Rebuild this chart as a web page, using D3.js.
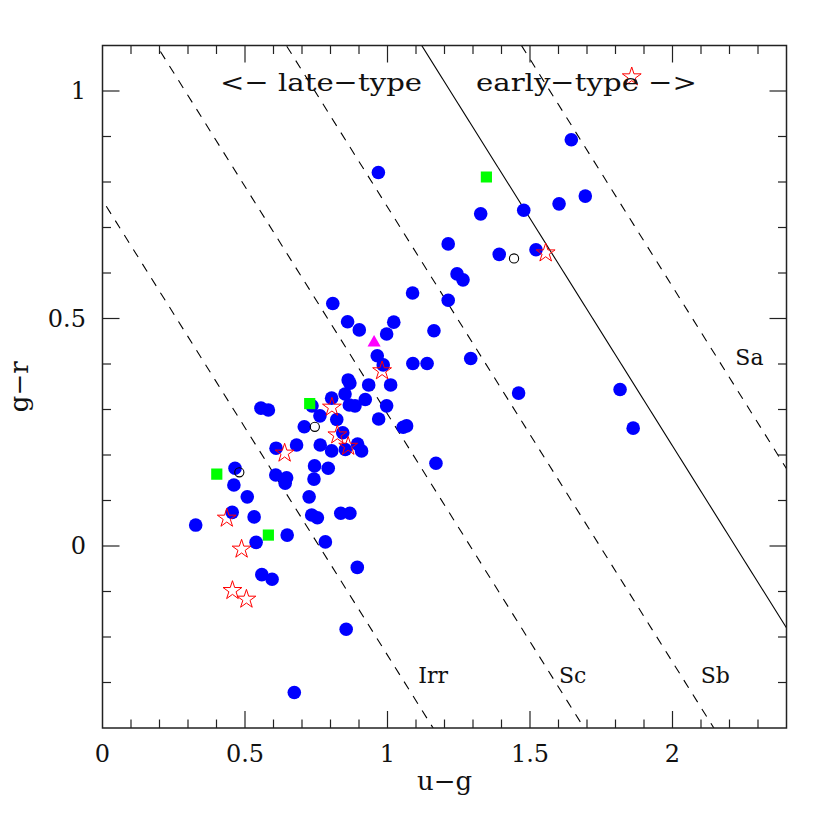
<!DOCTYPE html>
<html>
<head>
<meta charset="utf-8">
<script src="https://cdn.jsdelivr.net/npm/d3@7"></script>
<style>
  html, body { margin: 0; padding: 0; background: #fff; }
  text { font-family: "DejaVu Serif", "Liberation Serif", serif; fill: #111; }
</style>
</head>
<body>
<svg id="chart" width="830" height="830"></svg>
<script>
// ---------- data ----------
const blueX = [0.327,0.556,0.582,0.735,0.804,0.822,0.708,0.843,0.895,0.909,0.804,0.764,0.681,0.609,0.852,
  0.465,0.744,0.792,0.608,0.646,0.641,0.742,0.461,0.508,0.725,0.455,0.532,0.734,0.754,0.836,0.868,0.648,
  0.539,0.782,0.894,0.559,0.595,0.855,0.673,0.968,1.213,1.244,1.265,1.088,1.213,0.808,0.860,0.901,1.022,
  0.997,1.163,1.292,0.964,0.985,1.089,1.139,0.862,0.868,0.934,1.011,0.851,0.922,0.866,0.886,0.997,0.763,
  0.969,1.055,1.067,1.170,1.645,1.327,1.478,1.602,1.694,1.392,1.521,1.460,1.816,1.862];
const blueY = [0.046,0.303,0.299,0.308,0.325,0.278,0.262,0.249,0.224,0.209,0.209,0.222,0.222,0.215,0.212,
  0.171,0.176,0.171,0.156,0.150,0.138,0.147,0.134,0.108,0.108,0.074,0.064,0.068,0.062,0.072,0.072,0.024,
  0.008,0.009,-0.047,-0.063,-0.073,-0.183,-0.322,0.821,0.664,0.598,0.585,0.556,0.540,0.533,0.493,0.475,0.492,
  0.466,0.473,0.412,0.418,0.398,0.401,0.401,0.365,0.358,0.354,0.354,0.334,0.322,0.310,0.308,0.308,0.286,
  0.279,0.261,0.264,0.182,0.893,0.730,0.738,0.752,0.769,0.641,0.651,0.336,0.344,0.259];

const greenX = [1.347,0.727,0.401,0.582];
const greenY = [0.811,0.313,0.158,0.024];

const openX = [1.444,0.745,0.480];
const openY = [0.632,0.262,0.162];

const triX = [0.953];
const triY = [0.447];

const starX = [0.805,0.824,0.862,0.639,0.981,1.555,0.436,0.488,0.456,0.505,1.857];
const starY = [0.305,0.244,0.219,0.204,0.385,0.644,0.061,-0.007,-0.098,-0.117,1.031];

// lines of constant u-r (g-r = c - (u-g))
const lineC     = [0.76, 1.29, 1.745, 2.22, 2.57];
const lineDash  = [true, true, true, false, true];
const lineNames = ["Irr", "Sc", "Sb", "", "Sa"];
const labelX    = [1.16, 1.65, 2.15, null, 2.27];
const labelY    = [-0.285, -0.285, -0.285, null, 0.415];

const xTicks = [0, 0.5, 1, 1.5, 2];
const xTickLabels = ["0", "0.5", "1", "1.5", "2"];
const yTicks = [0, 0.5, 1];
const yTickLabels = ["0", "0.5", "1"];

// ---------- layout ----------
const L = 102.5, R = 786.5, T = 45.5, B = 728;
const x = d3.scaleLinear().domain([0, 2.4]).range([L, R]);
const y = d3.scaleLinear().domain([-0.4, 1.1]).range([B, T]);

const svg = d3.select("#chart");
svg.append("rect").attr("width", 830).attr("height", 830).attr("fill", "#fff");

svg.append("defs").append("clipPath").attr("id", "clip")
  .append("rect").attr("x", L).attr("y", T).attr("width", R - L).attr("height", B - T);

// ---------- lines ----------
const gl = svg.append("g").attr("clip-path", "url(#clip)");
lineC.forEach((c, i) => {
  gl.append("line")
    .attr("x1", x(-1)).attr("y1", y(c + 1))
    .attr("x2", x(3.5)).attr("y2", y(c - 3.5))
    .attr("stroke", "#000").attr("stroke-width", 1.1)
    .attr("stroke-dasharray", lineDash[i] ? "9,8" : null);
});
lineNames.forEach((n, i) => {
  if (!n) return;
  svg.append("text").attr("x", x(labelX[i])).attr("y", y(labelY[i]))
    .attr("text-anchor", "middle").attr("dominant-baseline", "central")
    .attr("font-size", 22).text(n);
});

// ---------- points ----------
const gp = svg.append("g").attr("clip-path", "url(#clip)");
gp.selectAll("circle.blue").data(d3.range(blueX.length)).join("circle")
  .attr("class", "blue")
  .attr("cx", i => x(blueX[i])).attr("cy", i => y(blueY[i])).attr("r", 6.8)
  .attr("fill", "#0000ff");

gp.selectAll("path.green").data(d3.range(greenX.length)).join("path")
  .attr("class", "green")
  .attr("transform", i => `translate(${x(greenX[i])},${y(greenY[i])})`)
  .attr("d", d3.symbol(d3.symbolSquare).size(125)())
  .attr("fill", "#00ff00");

gp.selectAll("circle.open").data(d3.range(openX.length)).join("circle")
  .attr("class", "open")
  .attr("cx", i => x(openX[i])).attr("cy", i => y(openY[i])).attr("r", 4.6)
  .attr("fill", "none").attr("stroke", "#000").attr("stroke-width", 1.1);

gp.selectAll("path.tri").data(d3.range(triX.length)).join("path")
  .attr("class", "tri")
  .attr("transform", i => `translate(${x(triX[i])},${y(triY[i])})`)
  .attr("d", d3.symbol(d3.symbolTriangle).size(75)())
  .attr("fill", "#ff00ff");

gp.selectAll("path.star").data(d3.range(starX.length)).join("path")
  .attr("class", "star")
  .attr("transform", i => `translate(${x(starX[i])},${y(starY[i])})`)
  .attr("d", d3.symbol(d3.symbolStar).size(110)())
  .attr("fill", "none").attr("stroke", "#ff0000").attr("stroke-width", 1);

// ---------- frame & ticks ----------
const axCol = "#222";
svg.append("rect").attr("x", L).attr("y", T).attr("width", R - L).attr("height", B - T)
  .attr("fill", "none").attr("stroke", axCol).attr("stroke-width", 1.5);

const xMinor = d3.range(1, 24).map(i => i / 10);
const yMinor = d3.range(-3, 11).map(i => i / 10);
const isMajor = v => Math.abs(v * 2 - Math.round(v * 2)) < 1e-6;
const gt = svg.append("g").attr("stroke", axCol).attr("stroke-width", 1.2);
xMinor.forEach(v => {
  const len = isMajor(v) ? 17 : 8.5;
  gt.append("line").attr("x1", x(v)).attr("x2", x(v)).attr("y1", B).attr("y2", B - len);
  gt.append("line").attr("x1", x(v)).attr("x2", x(v)).attr("y1", T).attr("y2", T + len);
});
yMinor.forEach(v => {
  const len = isMajor(v) ? 17 : 8.5;
  gt.append("line").attr("y1", y(v)).attr("y2", y(v)).attr("x1", L).attr("x2", L + len);
  gt.append("line").attr("y1", y(v)).attr("y2", y(v)).attr("x1", R).attr("x2", R - len);
});

// tick labels
xTicks.forEach((v, i) => {
  svg.append("text").attr("x", x(v)).attr("y", 762).attr("text-anchor", "middle")
    .attr("font-size", 24).text(xTickLabels[i]);
});
yTicks.forEach((v, i) => {
  svg.append("text").attr("x", 86).attr("y", y(v)).attr("text-anchor", "end")
    .attr("dominant-baseline", "central").attr("font-size", 24).text(yTickLabels[i]);
});

// axis titles
svg.append("text").attr("x", (L + R) / 2).attr("y", 790).attr("text-anchor", "middle")
  .attr("font-size", 26).text("u\u2212g");
svg.append("text").attr("transform", `translate(28,${(T + B) / 2}) rotate(-90)`)
  .attr("text-anchor", "middle").attr("font-size", 26).text("g\u2212r");

// top annotations
svg.append("text").attr("x", 220).attr("y", 91).attr("font-size", 25)
  .attr("textLength", 202).attr("lengthAdjust", "spacingAndGlyphs").text("<\u2212 late\u2212type");
svg.append("text").attr("x", 476).attr("y", 91).attr("font-size", 25)
  .attr("textLength", 221).attr("lengthAdjust", "spacingAndGlyphs").text("early\u2212type \u2212>");
</script>
</body>
</html>
